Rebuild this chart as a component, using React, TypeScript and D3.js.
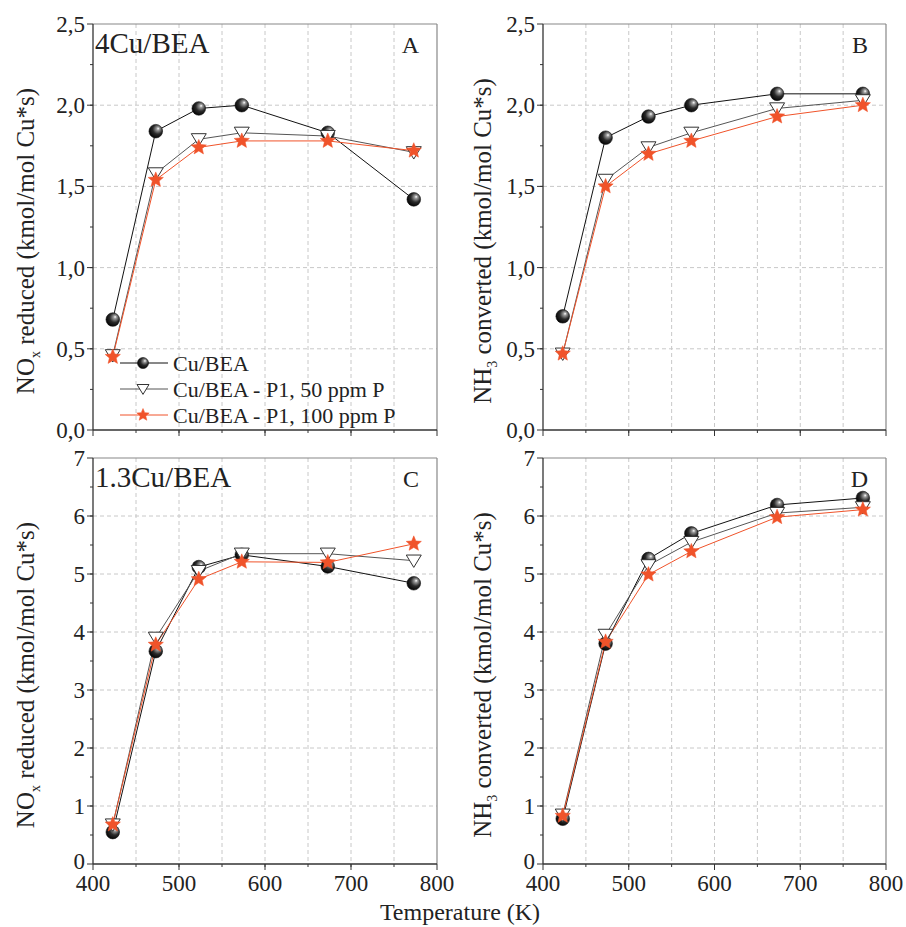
import React from "react";
import * as d3 from "d3";

const temps = [423, 473, 523, 573, 673, 773];
const seriesNames = ["Cu/BEA", "Cu/BEA - P1, 50 ppm P", "Cu/BEA - P1, 100 ppm P"];

const aCu = [0.68, 1.84, 1.98, 2.0, 1.83, 1.42];
const a50 = [0.46, 1.58, 1.79, 1.83, 1.81, 1.71];
const a100 = [0.45, 1.54, 1.74, 1.78, 1.78, 1.72];

const bCu = [0.7, 1.8, 1.93, 2.0, 2.07, 2.07];
const b50 = [0.47, 1.54, 1.74, 1.83, 1.98, 2.03];
const b100 = [0.47, 1.5, 1.7, 1.78, 1.93, 2.0];

const cCu = [0.55, 3.67, 5.12, 5.33, 5.13, 4.84];
const c50 = [0.68, 3.9, 5.05, 5.35, 5.35, 5.23];
const c100 = [0.68, 3.78, 4.91, 5.21, 5.2, 5.52];

const dCu = [0.78, 3.8, 5.26, 5.7, 6.19, 6.31];
const d50 = [0.85, 3.95, 5.15, 5.55, 6.05, 6.15];
const d100 = [0.83, 3.83, 4.99, 5.39, 5.98, 6.11];

const xTicks = [400, 500, 600, 700, 800];
const topYTicks = [0, 0.5, 1.0, 1.5, 2.0, 2.5];
const botYTicks = [0, 1, 2, 3, 4, 5, 6, 7];

const FONT = "Liberation Serif, Times New Roman, serif";
const RED = "#f0532a";
const GRAY = "#555";

type PanelProps = {
  left: number; right: number; top: number; bottom: number;
  yMax: number; yTicks: number[]; yMinorStep: number; fmt: (v: number) => string;
  data: number[][]; letter: string; title?: string; yLabel: "NO" | "NH"; labelX: number;
  showXLabels: boolean; legend?: boolean;
};

function Sphere({ x, y, r = 6.8 }: { x: number; y: number; r?: number }) {
  return <circle cx={x} cy={y} r={r} fill="url(#sph)" stroke="#111" strokeWidth={0.6} />;
}
function Tri({ x, y, s = 7.5 }: { x: number; y: number; s?: number }) {
  const p = [[x - s, y - s * 0.75], [x + s, y - s * 0.75], [x, y + s * 0.9]];
  return <polygon points={p.map((q) => q.join(",")).join(" ")} fill="white" stroke="#333" strokeWidth={1} />;
}
function Star({ x, y, r = 8 }: { x: number; y: number; r?: number }) {
  const pts: string[] = [];
  for (let i = 0; i < 10; i++) {
    const rr = i % 2 === 0 ? r : r * 0.45;
    const a = -Math.PI / 2 + (i * Math.PI) / 5;
    pts.push(`${x + rr * Math.cos(a)},${y + rr * Math.sin(a)}`);
  }
  return <polygon points={pts.join(" ")} fill={RED} stroke={RED} strokeWidth={0.5} />;
}

function Panel(p: PanelProps) {
  const x = d3.scaleLinear().domain([400, 800]).range([p.left, p.right]);
  const y = d3.scaleLinear().domain([0, p.yMax]).range([p.bottom, p.top]);
  const xMinor = d3.range(450, 800, 50);
  const yMinor = d3.range(p.yMinorStep, p.yMax, p.yMinorStep);
  const line = d3.line<number>().x((_, i) => x(temps[i])).y((v) => y(v));
  const colors = ["#111", GRAY, RED];
  const cy = (p.top + p.bottom) / 2 + 14;
  return (
    <g fontFamily={FONT} fill="#222">
      {xMinor.map((v) => (
        <line key={"gx" + v} x1={x(v)} x2={x(v)} y1={p.top} y2={p.bottom} stroke="#c8c8c8" strokeDasharray="4,3" strokeWidth={1} />
      ))}
      {p.yTicks.filter((v) => v > 0 && v < p.yMax).map((v) => (
        <line key={"gy" + v} x1={p.left} x2={p.right} y1={y(v)} y2={y(v)} stroke="#c8c8c8" strokeDasharray="4,3" strokeWidth={1} />
      ))}
      <line x1={p.left} x2={p.right} y1={p.top} y2={p.top} stroke="#888" strokeWidth={1.2} />
      <line x1={p.right} x2={p.right} y1={p.top} y2={p.bottom} stroke="#888" strokeWidth={1.2} />
      <line x1={p.left} x2={p.left} y1={p.top} y2={p.bottom} stroke="#333" strokeWidth={1.3} />
      <line x1={p.left} x2={p.right} y1={p.bottom} y2={p.bottom} stroke="#333" strokeWidth={1.3} />
      {xTicks.map((v) => (
        <line key={"xt" + v} x1={x(v)} x2={x(v)} y1={p.bottom} y2={p.bottom + 6} stroke="#333" />
      ))}
      {xMinor.map((v) => (
        <line key={"xm" + v} x1={x(v)} x2={x(v)} y1={p.bottom} y2={p.bottom + 3} stroke="#333" />
      ))}
      {p.showXLabels && xTicks.map((v) => (
        <text key={"xl" + v} x={x(v)} y={p.bottom + 27} textAnchor="middle" fontSize={23}>{v}</text>
      ))}
      {p.yTicks.map((v) => (
        <line key={"yt" + v} x1={p.left - 6} x2={p.left} y1={y(v)} y2={y(v)} stroke="#333" />
      ))}
      {yMinor.map((v) => (
        <line key={"ym" + v} x1={p.left - 3} x2={p.left} y1={y(v)} y2={y(v)} stroke="#333" />
      ))}
      {p.yTicks.map((v) => (
        <text key={"yl" + v} x={p.left - 8} y={y(v) + (v === 0 && p.showXLabels ? 5 : 8)} textAnchor="end" fontSize={23}>{p.fmt(v)}</text>
      ))}
      <text transform={`translate(${p.labelX},${cy}) rotate(-90)`} textAnchor="middle" fontSize={25}>
        {p.yLabel === "NO" ? (
          <>NO<tspan fontSize={14} dy={6}>x</tspan><tspan dy={-6}> reduced (kmol/mol Cu*s)</tspan></>
        ) : (
          <>NH<tspan fontSize={14} dy={6}>3</tspan><tspan dy={-6}> converted (kmol/mol Cu*s)</tspan></>
        )}
      </text>
      {p.data.map((vals, si) => (
        <path key={"l" + si} d={line(vals) || ""} fill="none" stroke={colors[si]} strokeWidth={1} />
      ))}
      {p.data[0].map((v, i) => <Sphere key={"s" + i} x={x(temps[i])} y={y(v)} />)}
      {p.data[1].map((v, i) => <Tri key={"t" + i} x={x(temps[i])} y={y(v)} />)}
      {p.data[2].map((v, i) => <Star key={"r" + i} x={x(temps[i])} y={y(v)} />)}
      {p.title && <text x={p.left + 2} y={p.top + 29} fontSize={29}>{p.title}</text>}
      <text x={p.right - 18} y={p.top + 29} textAnchor="end" fontSize={24}>{p.letter}</text>
      {p.legend && seriesNames.map((name, i) => {
        const ly = 363 + i * 26;
        return (
          <g key={"lg" + i}>
            <line x1={120} x2={168} y1={ly} y2={ly} stroke={colors[i]} strokeWidth={1} />
            {i === 0 && <Sphere x={143} y={ly} r={5.5} />}
            {i === 1 && <Tri x={143} y={ly} s={6} />}
            {i === 2 && <Star x={143} y={ly} r={6.5} />}
            <text x={173} y={ly + 8} fontSize={22}>{name}</text>
          </g>
        );
      })}
    </g>
  );
}

export default function App() {
  const fmt1 = (v: number) => v.toFixed(1).replace(".", ",");
  const fmt0 = (v: number) => String(v);
  return (
    <svg width={906} height={927} style={{ display: "block", position: "absolute", left: 0, top: 0 }}>
      <defs>
        <radialGradient id="sph" cx="0.6" cy="0.4" r="0.65" fx="0.68" fy="0.3">
          <stop offset="0" stopColor="#ffffff" />
          <stop offset="0.18" stopColor="#9a9a9a" />
          <stop offset="0.55" stopColor="#2a2a2a" />
          <stop offset="1" stopColor="#000" />
        </radialGradient>
      </defs>
      <rect width={906} height={927} fill="white" />
      <Panel left={93} right={437} top={24} bottom={430} yMax={2.5} yTicks={topYTicks} yMinorStep={0.25} fmt={fmt1}
        data={[aCu, a50, a100]} letter="A" title="4Cu/BEA" yLabel="NO" labelX={34} showXLabels={false} legend />
      <Panel left={543} right={886} top={24} bottom={430} yMax={2.5} yTicks={topYTicks} yMinorStep={0.25} fmt={fmt1}
        data={[bCu, b50, b100]} letter="B" yLabel="NH" labelX={491} showXLabels={false} />
      <Panel left={93} right={437} top={458} bottom={864} yMax={7} yTicks={botYTicks} yMinorStep={0.5} fmt={fmt0}
        data={[cCu, c50, c100]} letter="C" title="1.3Cu/BEA" yLabel="NO" labelX={34} showXLabels />
      <Panel left={543} right={886} top={458} bottom={864} yMax={7} yTicks={botYTicks} yMinorStep={0.5} fmt={fmt0}
        data={[dCu, d50, d100]} letter="D" yLabel="NH" labelX={491} showXLabels />
      <text x={460} y={920} textAnchor="middle" fontSize={24} fontFamily={FONT} fill="#222">Temperature (K)</text>
    </svg>
  );
}
